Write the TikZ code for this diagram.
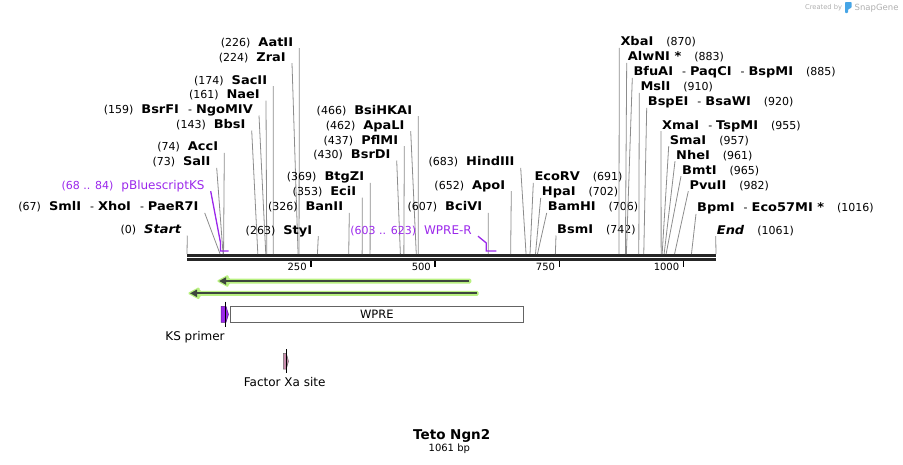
\documentclass[tikz,border=0pt]{standalone}
\usepackage{fontspec}
\setmainfont{DejaVu Sans}
\newfontfamily\enzfont[FakeStretch=1.08]{DejaVu Sans}
\usetikzlibrary{arrows.meta}
\definecolor{cutgray}{RGB}{140,140,140}
\definecolor{primerpurple}{RGB}{155,40,235}
\definecolor{orfgreen}{RGB}{184,240,128}
\definecolor{orfdark}{RGB}{62,70,62}
\definecolor{xapink}{RGB}{200,140,172}
\definecolor{boxgray}{RGB}{100,100,100}
\definecolor{markgray}{RGB}{175,175,175}
\definecolor{markblue}{RGB}{70,165,230}
\newcommand\bpx[1]{186.8+0.4967*#1}
\newcommand\enz[1]{{\enzfont\fontsize{12}{14}\selectfont\bfseries #1}}
\newcommand\alsocut{\hspace{9pt}-\hspace{4pt}}
\newcommand\lgap{\hspace{8pt}}
\newcommand\rgap{\hspace{13pt}}
\tikzset{
  site/.style={font=\fontsize{11}{13}\selectfont, text height=9pt, text depth=1.5pt, inner ysep=0.5pt},
  lsite/.style={site, anchor=base east, inner xsep=6pt},
  rsite/.style={site, anchor=base west, inner xsep=1pt},
  cutline/.style={draw=cutgray, line width=0.8pt},
  featline/.style={draw=primerpurple, line width=1.3pt},
  ticklabel/.style={font=\fontsize{10}{12}\selectfont, anchor=base east, inner sep=0pt},
  featlabel/.style={font=\fontsize{12}{14}\selectfont, anchor=base, inner sep=0pt},
  ruler/.style={line width=2.7pt, black!85}
}
\begin{document}
\begin{tikzpicture}[x=1pt,y=-1pt]
  \useasboundingbox (0,0) rectangle (903,464);

  \coordinate (rul-l) at (187,254);
  \coordinate (rul-r) at (716,254);
  \draw[ruler] (187,255.4) -- (716,255.4);
  \draw[ruler] (187,259.4) -- (716,259.4);
  \foreach \t in {250,500,750,1000}
    \draw[line width=1.6pt] ({\bpx{\t}},260.5) -- ++(0,6.5) node[ticklabel, xshift=-3.5pt, yshift=-3pt] {\t};

  \foreach \n/\p/\x/\y/\t in {
    aatii/226/299.3/46/{(226)\lgap\enz{AatII}},
    zrai/224/292/61/{(224)\lgap\enz{ZraI}},
    sacii/174/273.3/84/{(174)\lgap\enz{SacII}},
    naei/161/266/98.3/{(161)\lgap\enz{NaeI}},
    bsrfi/159/259/113.3/{(159)\lgap\enz{BsrFI}\alsocut\enz{NgoMIV}},
    bbsi/143/251.7/128.3/{(143)\lgap\enz{BbsI}},
    acci/74/224.3/150.7/{(74)\lgap\enz{AccI}},
    sali/73/216.7/165.7/{(73)\lgap\enz{SalI}},
    smli/67/204.7/210.7/{(67)\lgap\enz{SmlI}\alsocut\enz{XhoI}\alsocut\enz{PaeR7I}},
    styi/263/318.3/234/{(263)\lgap\enz{StyI}},
    banii/326/349.3/210.7/{(326)\lgap\enz{BanII}},
    ecii/353/362.3/195.3/{(353)\lgap\enz{EciI}},
    btgzi/369/370.3/180.7/{(369)\lgap\enz{BtgZI}},
    bsrdi/430/396.7/158.3/{(430)\lgap\enz{BsrDI}},
    pflmi/437/404.3/144/{(437)\lgap\enz{PflMI}},
    apali/462/410.7/129/{(462)\lgap\enz{ApaLI}},
    bsihkai/466/418.3/114/{(466)\lgap\enz{BsiHKAI}},
    bcivi/607/488.3/210.7/{(607)\lgap\enz{BciVI}},
    apoi/652/511.3/189/{(652)\lgap\enz{ApoI}},
    hindiii/683/520.7/165.7/{(683)\lgap\enz{HindIII}}
  }{
    \coordinate (s-\n) at ({\bpx{\p}},254);
    \node[lsite] (\n) at (\x,\y) {\t};
    \draw[cutline] (\n.south east) -- (s-\n);
  }

  \foreach \n/\p/\x/\y/\t in {
    ecorv/691/533.3/180.7/{\enz{EcoRV}\rgap(691)},
    hpai/702/540.7/195.7/{\enz{HpaI}\rgap(702)},
    bamhi/706/546.7/210.7/{\enz{BamHI}\rgap(706)},
    bsmi/742/556/233.3/{\enz{BsmI}\rgap(742)},
    xbai/870/619.3/45.7/{\enz{XbaI}\rgap(870)},
    alwni/883/626.7/60.7/{\enz{AlwNI *}\rgap(883)},
    bfuai/885/632.3/75.7/{\enz{BfuAI}\alsocut\enz{PaqCI}\alsocut\enz{BspMI}\rgap(885)},
    msli/910/639.3/90.7/{\enz{MslI}\rgap(910)},
    bspei/920/646.7/105.7/{\enz{BspEI}\alsocut\enz{BsaWI}\rgap(920)},
    xmai/955/661/129/{\enz{XmaI}\alsocut\enz{TspMI}\rgap(955)},
    smai/957/668.7/144/{\enz{SmaI}\rgap(957)},
    nhei/961/675/159/{\enz{NheI}\rgap(961)},
    bmti/965/681/174/{\enz{BmtI}\rgap(965)},
    pvuii/982/688.3/189/{\enz{PvuII}\rgap(982)},
    bpmi/1016/696/211.7/{\enz{BpmI}\alsocut\enz{Eco57MI *}\rgap(1016)}
  }{
    \coordinate (s-\n) at ({\bpx{\p}},254);
    \node[rsite] (\n) at (\x,\y) {\t};
    \draw[cutline] (\n.south west) -- (s-\n);
  }

  \node[lsite] (start) at (187.3,233.3) {(0)\lgap\enz{\itshape Start}};
  \draw[cutline] (start.south east) -- (rul-l);
  \node[rsite] (end) at (715.7,234) {\enz{\itshape End}\rgap(1061)};
  \draw[cutline] (end.south west) -- (rul-r);

  \node[lsite, text=primerpurple] (pks) at (210.7,189) {(68 .. 84)\lgap{\fontsize{12}{14}\selectfont pBluescriptKS}};
  \coordinate (ks-l) at ({\bpx{68}},251);
  \coordinate (ks-r) at ({\bpx{84}},251);
  \draw[featline] (pks.south east) -- ([yshift=8pt]ks-l) -- (ks-l) -- (ks-r);
  \node[lsite, text=primerpurple] (wprer) at (478,234) {(603 .. 623)\lgap{\fontsize{12}{14}\selectfont WPRE-R}};
  \coordinate (wr-l) at ({\bpx{603}},251);
  \coordinate (wr-r) at ({\bpx{623}},251);
  \draw[featline] (wprer.south east) -- ([yshift=8pt]wr-l) -- (wr-l) -- (wr-r);

  \foreach \n/\r/\l/\y in {orfa/469.3/219/281, orfb/476.7/190/293.3}{
    \coordinate (\n-r) at (\r,\y);
    \coordinate (\n-l) at (\l,\y);
    \fill[orfgreen, rounded corners=1.5pt] ({\r+2},{\y-2.5}) -- ({\l+9.5},{\y-2.5}) -- ({\l+9.5},{\y-6.5})
      -- ({\l-2.8},\y) -- ({\l+9.5},{\y+6.5}) -- ({\l+9.5},{\y+2.5}) -- ({\r+2},{\y+2.5}) -- cycle;
    \draw[orfdark, line width=1.8pt, -{Triangle[length=7pt,width=7pt]}] (\n-r) -- (\n-l);
  }

  \node[draw=boxgray, line width=0.8pt, fill=white, minimum width=293pt, minimum height=15.6pt,
        inner sep=0pt, font=\fontsize{11.5}{13}\selectfont] (wpre) at (376.8,314.5) {WPRE};
  \filldraw[fill=primerpurple, draw=primerpurple!60!black, line width=0.5pt]
    (221,306.3) -- (226,306.3) -- (228.5,314.4) -- (226,322.3) -- (221,322.3) -- cycle;
  \draw[line width=0.8pt] (225.7,301.7) -- (225.7,326.7);
  \node[featlabel] (ksp) at (195,340) {KS primer};

  \filldraw[fill=xapink, draw=black!60, line width=0.5pt]
    (283.3,353.3) -- (286.3,353.3) -- (288.5,361.2) -- (286.3,369) -- (283.3,369) -- cycle;
  \draw[line width=0.8pt] (286.3,349) -- (286.3,373.3);
  \node[featlabel] (fxa) at (284.7,386.7) {Factor Xa site};

  \node[anchor=base, inner sep=0pt, font=\fontsize{13.5}{16}\selectfont\bfseries] (title) at (451.7,439) {Teto Ngn2};
  \node[anchor=base, inner sep=0pt, font=\fontsize{10}{12}\selectfont] (len) at (449.3,451) {1061 bp};

  \node[anchor=base west, inner sep=0pt, text=markgray, font=\fontsize{6.7}{8}\selectfont] (made) at (805,9.5) {Created by};
  \fill[markblue, rounded corners=0.8pt] (845,2) -- (851.7,2) -- (851.7,7.5) -- (848,9.5) -- (848,13) -- (845,13) -- cycle;
  \node[anchor=base west, inner sep=0pt, text=markgray, font=\fontsize{8.5}{10}\selectfont] (sg) at (854.5,10) {SnapGene};
\end{tikzpicture}
\end{document}
